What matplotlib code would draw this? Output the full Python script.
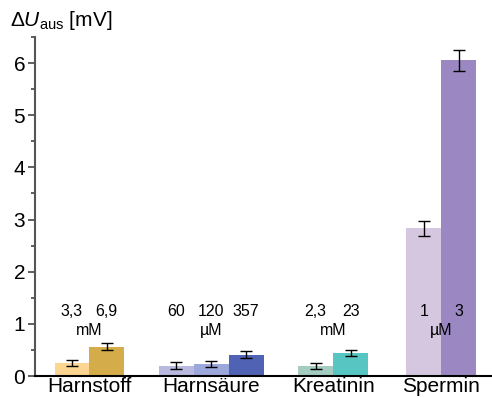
import matplotlib.pyplot as plt

plt.rcParams['font.family'] = ['Liberation Sans', 'DejaVu Sans']
plt.rcParams['mathtext.fontset'] = 'custom'
plt.rcParams['mathtext.rm'] = 'Liberation Sans'
plt.rcParams['mathtext.it'] = 'Liberation Sans:italic'

# Daten
groups = ['Harnstoff', 'Harnsäure', 'Kreatinin', 'Spermin']
conc_labels = [['3,3', '6,9'], ['60', '120', '357'], ['2,3', '23'], ['1', '3']]
units = ['mM', 'µM', 'mM', 'µM']
values = [[0.25, 0.56], [0.20, 0.23, 0.41], [0.19, 0.44], [2.83, 6.05]]
errors = [[0.05, 0.07], [0.06, 0.05, 0.07], [0.05, 0.06], [0.15, 0.20]]
colors = [['#fcd590', '#d4ad4a'],
          ['#b9b9df', '#9ca7dc', '#5062b3'],
          ['#a4ccc0', '#57c6c2'],
          ['#d6c7e1', '#9b88c2']]

# Position der ersten Bar jeder Gruppe (in Balkenbreiten)
group_start = [1, 4, 8, 11.1]

fig = plt.figure(figsize=(4.92, 3.98), dpi=100)
ax = fig.add_axes([35/492, 22/398, 457/492, 339/398])

centers = []
for g in range(len(groups)):
    n = len(values[g])
    xs = [group_start[g] + i for i in range(n)]
    ax.bar(xs, values[g], width=1.0, color=colors[g], edgecolor='none')
    ax.errorbar(xs, values[g], yerr=errors[g], fmt='none', ecolor='black',
                elinewidth=1, capsize=4, capthick=1)
    for x, lab in zip(xs, conc_labels[g]):
        ax.text(x, 1.23, lab, ha='center', va='center', fontsize=11.5)
    c = sum(xs) / n
    centers.append(c)
    ax.text(c, 0.87, units[g], ha='center', va='center', fontsize=11.5)

ax.set_xlim(-0.06, 13.06)
ax.set_ylim(0, 6.5)
ax.set_xticks(centers)
ax.set_xticklabels(groups, fontsize=15)
ax.tick_params(axis='x', length=0, pad=1)
ax.set_yticks(range(0, 7))
ax.set_yticks([i + 0.5 for i in range(0, 7)], minor=True)
ax.tick_params(axis='y', which='major', length=5, width=1.2, labelsize=15, pad=2, color='#444444')
ax.tick_params(axis='y', which='minor', length=3, width=1.2, color='#444444')

ax.spines['top'].set_visible(False)
ax.spines['right'].set_visible(False)
ax.spines['left'].set_color('#555555')
ax.spines['left'].set_linewidth(1.5)
ax.spines['bottom'].set_linewidth(1.5)

fig.text(10/492, 1 - 20/398, r'$\Delta U_{\rm aus}$ [mV]', fontsize=15, ha='left', va='center')

plt.savefig('out.png', dpi=100)
